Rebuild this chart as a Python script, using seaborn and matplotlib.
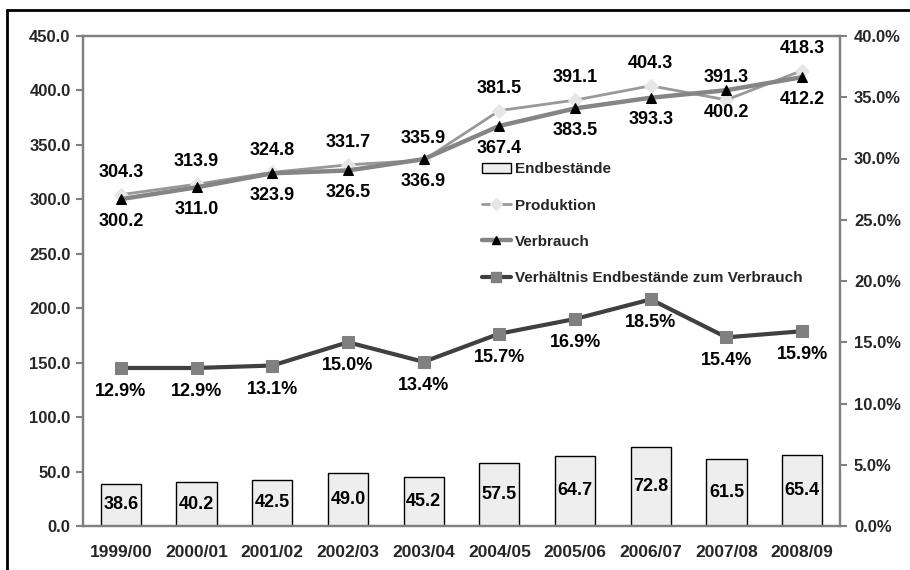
import numpy as np
import matplotlib
matplotlib.use("Agg")
import matplotlib.pyplot as plt
from matplotlib.patches import Patch
from matplotlib.lines import Line2D
from matplotlib.ticker import FixedLocator, FuncFormatter
import seaborn as sns

# Marktjahre und Kennzahlen
seasons = ["1999/00", "2000/01", "2001/02", "2002/03", "2003/04",
           "2004/05", "2005/06", "2006/07", "2007/08", "2008/09"]
endbestaende = [38.6, 40.2, 42.5, 49.0, 45.2, 57.5, 64.7, 72.8, 61.5, 65.4]
produktion = [304.3, 313.9, 324.8, 331.7, 335.9, 381.5, 391.1, 404.3, 391.3, 418.3]
verbrauch = [300.2, 311.0, 323.9, 326.5, 336.9, 367.4, 383.5, 393.3, 400.2, 412.2]
verhaeltnis = [12.9, 12.9, 13.1, 15.0, 13.4, 15.7, 16.9, 18.5, 15.4, 15.9]

sns.set_theme(style="white")
plt.rcParams["font.family"] = ["Liberation Sans", "DejaVu Sans"]
plt.rcParams["font.weight"] = "bold"

SPINE = "#808080"
fig = plt.figure(figsize=(9.1, 5.7), dpi=100)
ax = fig.add_axes([83 / 910, 1 - 526 / 570, (840 - 83) / 910, (526 - 36) / 570])
ax2 = ax.twinx()

idx = np.arange(len(seasons))

# Endbestände als Säulen
sns.barplot(x=seasons, y=endbestaende, ax=ax, color="#eeeeee", edgecolor="black",
            linewidth=1.0, width=0.53, saturation=1, zorder=2)

# Produktion und Verbrauch auf der linken Achse
sns.lineplot(x=idx, y=produktion, ax=ax, color="#999999", linewidth=2.0,
             marker="D", markersize=7, markerfacecolor="#e6e6e6",
             markeredgecolor="#e6e6e6", zorder=3)
sns.lineplot(x=idx, y=verbrauch, ax=ax, color="#858585", linewidth=3.2,
             marker="^", markersize=7, markerfacecolor="black",
             markeredgecolor="black", zorder=4)

# Verhältnis auf der rechten Achse
sns.lineplot(x=idx, y=verhaeltnis, ax=ax2, color="#404040", linewidth=3.0,
             marker="s", markersize=8, markerfacecolor="#808080",
             markeredgecolor="#808080", zorder=3)

ax.set_xlim(-0.5, len(seasons) - 0.5)
ax.set_ylim(0, 450)
ax2.set_ylim(0, 40)
ax.set_xlabel("")
ax.set_ylabel("")
ax2.set_ylabel("")

ax.set_yticks(np.arange(0, 451, 50))
ax.yaxis.set_major_formatter(FuncFormatter(lambda v, p: f"{v:.1f}"))
ax2.set_yticks(np.arange(0, 41, 5))
ax2.yaxis.set_major_formatter(FuncFormatter(lambda v, p: f"{v:.1f}%"))

# Kategorienbeschriftung mittig, Teilstriche an den Grenzen
ax.set_xticks(idx)
ax.set_xticklabels(seasons, fontsize=12.5, fontweight="bold")
ax.xaxis.set_minor_locator(FixedLocator(np.arange(-0.5, len(seasons), 1.0)))
ax.tick_params(axis="x", which="major", length=0, pad=14)
ax.tick_params(axis="x", which="minor", length=5, width=1.5, color=SPINE, direction="out")
ax.tick_params(axis="y", length=5, width=1.5, color=SPINE, direction="out",
               labelsize=12, pad=4)
ax2.tick_params(axis="y", length=5, width=1.5, color=SPINE, direction="out",
                labelsize=12, pad=5)
for lab in ax.get_yticklabels() + ax2.get_yticklabels():
    lab.set_fontweight("bold")

for a in (ax, ax2):
    for s in a.spines.values():
        s.set_color(SPINE)
        s.set_linewidth(1.6)
    a.grid(False)

# Wertebeschriftungen
lab_kw = dict(textcoords="offset points", ha="center", va="center",
              fontsize=13, fontweight="bold", color="black")
for i in idx:
    ax.annotate(f"{produktion[i]:.1f}", (i, produktion[i]), xytext=(0, 16), **lab_kw)
    ax.annotate(f"{verbrauch[i]:.1f}", (i, verbrauch[i]), xytext=(0, -16), **lab_kw)
    ax.annotate(f"{endbestaende[i]:.1f}", (i, endbestaende[i] / 2), xytext=(0, 0),
                zorder=5, **lab_kw)
    ax2.annotate(f"{verhaeltnis[i]:.1f}%", (i, verhaeltnis[i]), xytext=(0, -17), **lab_kw)

# Legende
handles = [
    Patch(facecolor="#eeeeee", edgecolor="black", linewidth=1.0),
    Line2D([], [], color="#999999", linewidth=2.0, marker="D", markersize=6,
           markerfacecolor="#e6e6e6", markeredgecolor="#e6e6e6"),
    Line2D([], [], color="#858585", linewidth=3.2, marker="^", markersize=6,
           markerfacecolor="black", markeredgecolor="black"),
    Line2D([], [], color="#404040", linewidth=3.0, marker="s", markersize=7,
           markerfacecolor="#808080", markeredgecolor="#808080"),
]
labels = ["Endbestände", "Produktion", "Verbrauch",
          "Verhältnis Endbestände zum Verbrauch"]
leg = ax2.legend(handles, labels, loc="upper left", bbox_to_anchor=(0.527, 0.742),
                 frameon=False, fontsize=11, labelspacing=1.45, handlelength=1.9,
                 handletextpad=0.25, borderaxespad=0, borderpad=0)
for t in leg.get_texts():
    t.set_fontweight("bold")

# Rahmen links und oben
fig.add_artist(Line2D([7 / 910, 7 / 910], [0, 1 - 10 / 570], color="black",
                      linewidth=2.0, transform=fig.transFigure))
fig.add_artist(Line2D([7 / 910, 1], [1 - 10 / 570, 1 - 10 / 570], color="black",
                      linewidth=2.0, transform=fig.transFigure))

fig.savefig("out.png", dpi=100)
